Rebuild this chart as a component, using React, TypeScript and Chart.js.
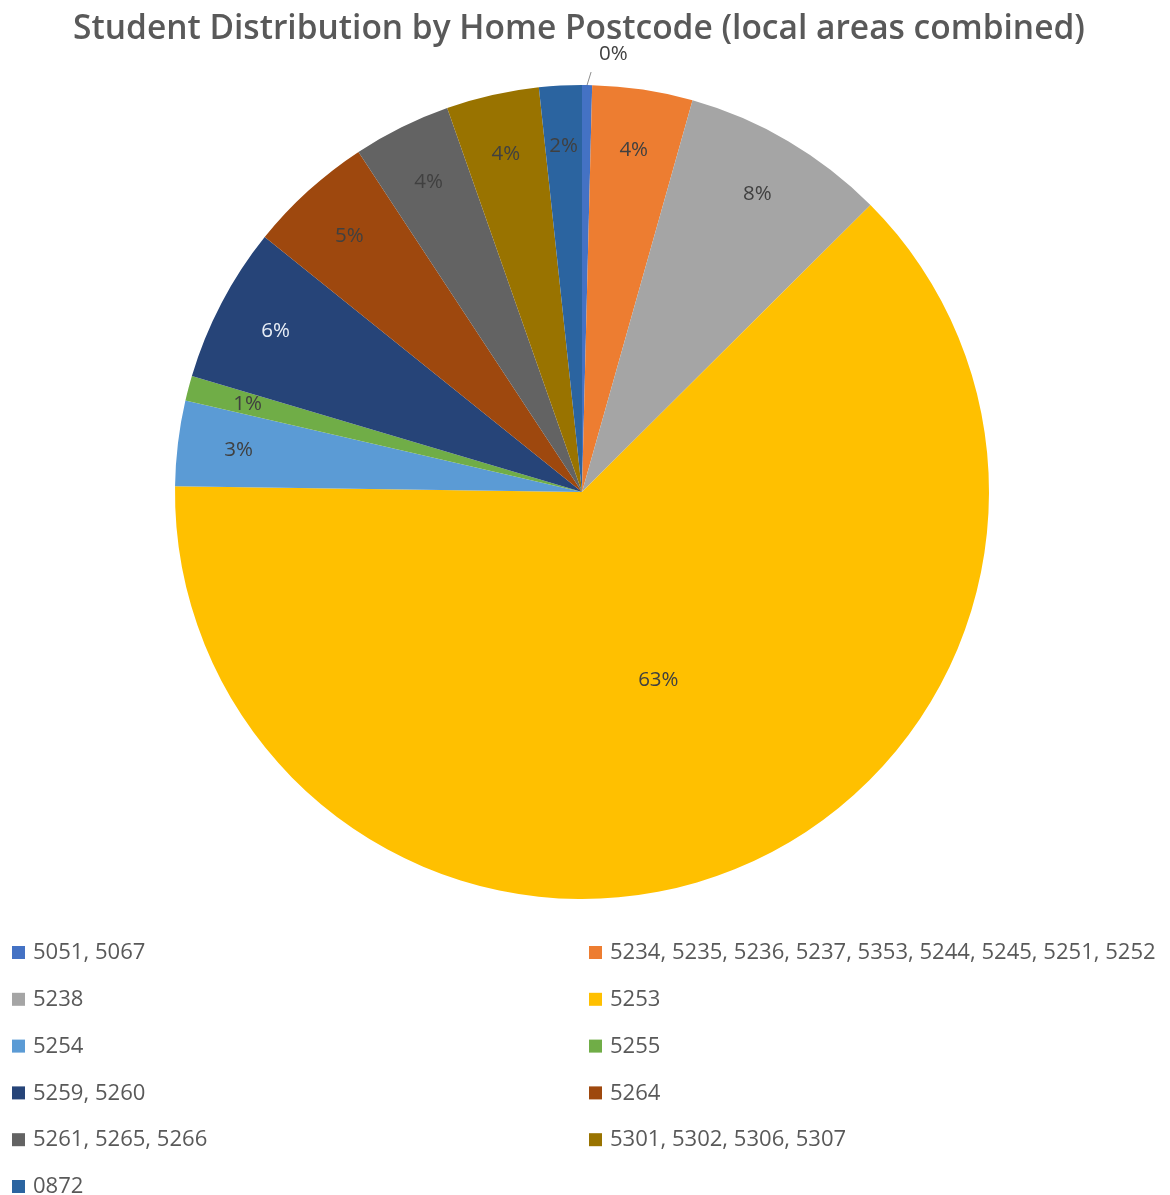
import React, { useEffect, useRef } from "react";
import { Chart, registerables } from "chart.js";

Chart.register(...registerables);

const TITLE = "Student Distribution by Home Postcode (local areas combined)";

const postcodeGroups = [
  "5051, 5067",
  "5234, 5235, 5236, 5237, 5353, 5244, 5245, 5251, 5252",
  "5238",
  "5253",
  "5254",
  "5255",
  "5259, 5260",
  "5264",
  "5261, 5265, 5266",
  "5301, 5302, 5306, 5307",
  "0872",
];

// share of students (%)
const studentShares = [0.4, 4.0, 8.2, 63.0, 3.4, 1.0, 6.2, 5.0, 3.9, 3.7, 1.7];

const sliceColors = [
  "#4472C4",
  "#ED7D31",
  "#A5A5A5",
  "#FFC000",
  "#5B9BD5",
  "#70AD47",
  "#264478",
  "#9E480E",
  "#636363",
  "#997300",
  "#2B64A0",
];

const FONT = "'Open Sans', Lato, sans-serif";

function fitFont(ctx: CanvasRenderingContext2D, text: string, weight: string, target: number) {
  ctx.font = `${weight} 20px ${FONT}`;
  const w = ctx.measureText(text).width;
  return (20 * target) / w;
}

function luminance(hex: string) {
  const n = parseInt(hex.slice(1), 16);
  const r = (n >> 16) & 255, g = (n >> 8) & 255, b = n & 255;
  return (0.299 * r + 0.587 * g + 0.114 * b) / 255;
}

const overlayPlugin = {
  id: "overlay",
  afterDraw(chart: any) {
    const ctx = chart.ctx as CanvasRenderingContext2D;
    const ds = chart.data.datasets[0];
    const values: number[] = ds.data as number[];
    const colors: string[] = ds.backgroundColor as string[];
    const total = values.reduce((a, b) => a + b, 0);
    ctx.save();

    // Title
    const tSize = fitFont(ctx, TITLE, "600", 1012);
    ctx.fillStyle = "#595959";
    ctx.font = `600 ${tSize}px ${FONT}`;
    ctx.textAlign = "center";
    ctx.textBaseline = "middle";
    ctx.fillText(TITLE, 579, 29);

    // Data labels
    const meta = chart.getDatasetMeta(0);
    ctx.font = `20.5px ${FONT}`;
    meta.data.forEach((arc: any, i: number) => {
      const p = arc.getProps(["x", "y", "startAngle", "endAngle", "outerRadius"], true);
      const mid = (p.startAngle + p.endAngle) / 2;
      const share = (values[i] / total) * 100;
      const txt = Math.round(share) + "%";
      ctx.fillStyle = luminance(colors[i]) < 0.3 ? "#E8EEF6" : "#404040";
      if (share < 0.5) {
        const ax = p.x + Math.cos(mid) * p.outerRadius;
        const ay = p.y + Math.sin(mid) * p.outerRadius;
        ctx.strokeStyle = "#8c8c8c";
        ctx.lineWidth = 1;
        ctx.beginPath();
        ctx.moveTo(ax, ay);
        ctx.lineTo(ax + 4, ay - 13);
        ctx.stroke();
        ctx.fillStyle = "#404040";
        ctx.textAlign = "left";
        ctx.fillText(txt, ax + 12, ay - 31);
      } else {
        const rr = share > 50 ? 0.5 * p.outerRadius : 0.85 * p.outerRadius;
        ctx.textAlign = "center";
        ctx.fillText(txt, p.x + Math.cos(mid) * rr, p.y + Math.sin(mid) * rr);
      }
    });

    // Legend (two columns, row-major)
    const labels: string[] = chart.data.labels;
    const lSize = fitFont(ctx, labels[1], "normal", 546);
    ctx.font = `${lSize}px ${FONT}`;
    ctx.textAlign = "left";
    ctx.textBaseline = "middle";
    labels.forEach((lab, i) => {
      const col = i % 2;
      const row = Math.floor(i / 2);
      const x = col === 0 ? 12 : 589;
      const y = 953 + row * 46.8;
      ctx.fillStyle = colors[i];
      ctx.fillRect(x, y - 7, 13, 13);
      ctx.fillStyle = "#595959";
      ctx.fillText(lab, x + 21, y);
    });

    ctx.restore();
  },
};

export default function App() {
  const ref = useRef<HTMLCanvasElement | null>(null);
  useEffect(() => {
    if (!ref.current) return;
    const chart = new Chart(ref.current, {
      type: "pie",
      data: {
        labels: postcodeGroups,
        datasets: [
          {
            data: studentShares,
            backgroundColor: sliceColors,
            borderWidth: 0,
          },
        ],
      },
      options: {
        animation: false,
        responsive: true,
        maintainAspectRatio: false,
        layout: { padding: { top: 85, bottom: 296, left: 0, right: 6 } },
        plugins: {
          legend: { display: false },
          title: { display: false },
          tooltip: { enabled: false },
        },
      },
      plugins: [overlayPlugin],
    });
    return () => chart.destroy();
  }, []);
  return (
    <div style={{ position: "absolute", left: 0, top: 0, width: 1170, height: 1195 }}>
      <canvas ref={ref} />
    </div>
  );
}
